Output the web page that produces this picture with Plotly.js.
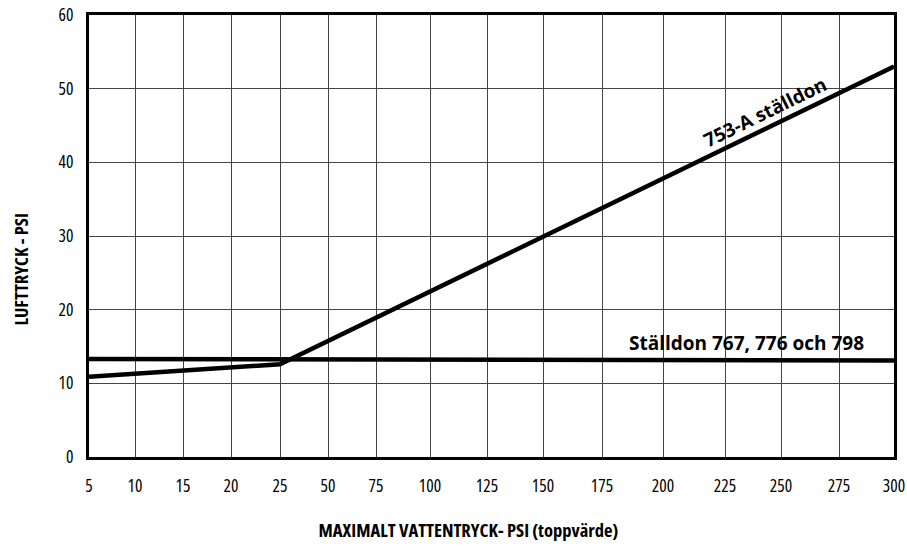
<!DOCTYPE html>
<html>
<head>
<meta charset="utf-8">
<script src="https://cdn.plot.ly/plotly-3.0.1.min.js"></script>
<style>
html,body{margin:0;padding:0;background:#fff;}
#chart{width:907px;height:547px;}
#chart .xtick text, #chart .ytick text,
#chart g.annotation[data-index="2"] text, #chart g.annotation[data-index="3"] text { font-stretch: 75% !important; }
</style>
</head>
<body>
<div id="chart"></div>
<script>
// X tick labels (PSI) and where each sits along the (non-uniform) printed scale
const xTickLabels = [5, 10, 15, 20, 25, 50, 75, 100, 125, 150, 175, 200, 225, 250, 275, 300];
const xScaleStops = [0, 46, 94, 142, 191, 239, 287, 341, 398, 454, 513, 574, 636, 692, 750, 805];
const yTickLabels = [0, 10, 20, 30, 40, 50, 60];

// Series: 753-A ställdon
const a753X = [5, 25, 300];
const a753Y = [10.9, 12.6, 53.0];
// Series: Ställdon 767, 776 och 798
const s767X = [5, 300];
const s767Y = [13.3, 13.1];

function toAxis(v) {
  for (let i = 0; i < xTickLabels.length - 1; i++) {
    const a = xTickLabels[i], b = xTickLabels[i + 1];
    if (v >= a && v <= b) {
      return xScaleStops[i] + (v - a) / (b - a) * (xScaleStops[i + 1] - xScaleStops[i]);
    }
  }
  return v < xTickLabels[0] ? xScaleStops[0] : xScaleStops[xScaleStops.length - 1];
}

const sans = '"Open Sans", "DejaVu Sans Condensed", Arial, sans-serif';

const traces = [
  {x: s767X.map(toAxis), y: s767Y, mode: 'lines', line: {color: '#000', width: 4.5}, hoverinfo: 'skip'},
  {x: a753X.map(toAxis), y: a753Y, mode: 'lines', line: {color: '#000', width: 4.5}, hoverinfo: 'skip'}
];

const layout = {
  width: 907, height: 547,
  margin: {l: 89, r: 13, t: 15, b: 90},
  paper_bgcolor: '#fff', plot_bgcolor: '#fff',
  showlegend: false,
  xaxis: {
    range: [toAxis(5), toAxis(300)],
    tickvals: xTickLabels.map(toAxis),
    ticktext: xTickLabels.map(String),
    showgrid: true, gridcolor: '#444', gridwidth: 1,
    zeroline: false,
    showline: true, linecolor: '#000', linewidth: 3, mirror: true,
    ticks: '', ticklabelstandoff: 11, ticklabeloverflow: 'allow',
    tickfont: {family: sans, size: 17.5, color: '#000'}
  },
  yaxis: {
    range: [0, 60],
    tickvals: yTickLabels,
    ticktext: yTickLabels.map(String),
    showgrid: true, gridcolor: '#444', gridwidth: 1,
    zeroline: false,
    showline: true, linecolor: '#000', linewidth: 3, mirror: true,
    ticks: '', ticklabelstandoff: 9, ticklabeloverflow: 'allow',
    tickfont: {family: sans, size: 17.5, color: '#000'}
  },
  annotations: [
    {x: toAxis(234.8), y: 15.5, xref: 'x', yref: 'y', text: 'Ställdon 767, 776 och 798',
     showarrow: false, font: {family: sans, size: 19, color: '#000', weight: 700}, xanchor: 'center', yanchor: 'middle'},
    {x: toAxis(242.9), y: 46.9, xref: 'x', yref: 'y', text: '753-A ställdon', textangle: -26,
     showarrow: false, font: {family: sans, size: 19, color: '#000', weight: 700}, xanchor: 'center', yanchor: 'middle'},
    {x: 0.471, y: -0.165, xref: 'paper', yref: 'paper', text: 'MAXIMALT VATTENTRYCK- PSI (toppvärde)',
     showarrow: false, font: {family: sans, size: 18.5, color: '#000', weight: 700}, xanchor: 'center', yanchor: 'middle'},
    {x: -0.0857, y: 0.423, xref: 'paper', yref: 'paper', text: 'LUFTTRYCK - PSI', textangle: -90,
     showarrow: false, font: {family: sans, size: 18.5, color: '#000', weight: 700}, xanchor: 'center', yanchor: 'middle'}
  ]
};

Plotly.newPlot('chart', traces, layout, {displayModeBar: false, staticPlot: true});
</script>
</body>
</html>
